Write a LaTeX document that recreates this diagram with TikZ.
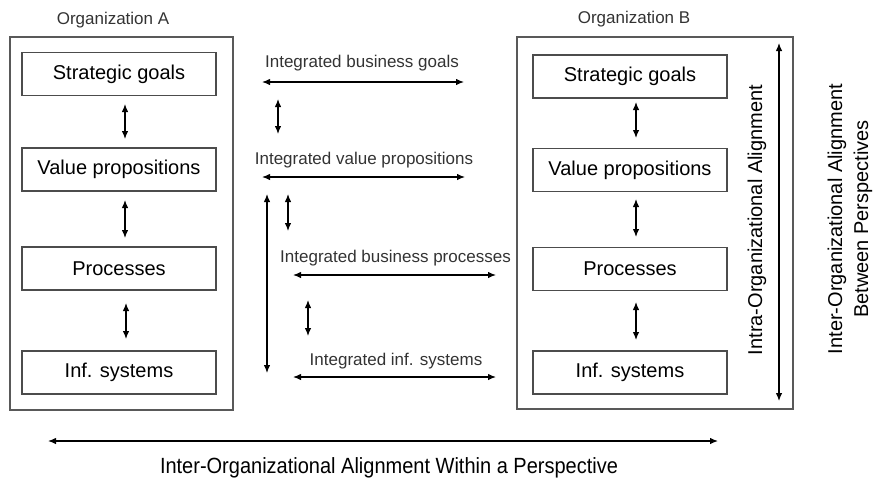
\documentclass[tikz,border=0pt]{standalone}
\usepackage{fontspec}
\setmainfont{Liberation Sans}
\usetikzlibrary{arrows.meta}
\begin{document}
\begin{tikzpicture}[x=1pt,y=-1pt,
 outer/.style={draw=black!65, line width=1.3pt, inner sep=0pt},
 inner/.style={draw=black!70, line width=1.2pt, minimum width=194pt, minimum height=43pt, inner sep=0pt, font=\fontsize{20}{24}\selectfont},
 darr/.style={{Latex[length=8pt,width=6.5pt]}-{Latex[length=8pt,width=6.5pt]}, line width=1.2pt},
 lbl/.style={font=\fontsize{17}{20}\selectfont, text=black!80, inner sep=0pt, anchor=base},
 big/.style={font=\fontsize{20}{26}\selectfont, inner sep=0pt}]
\useasboundingbox (0,0) rectangle (877,477);
% organization boxes
\node[outer, minimum width=223pt, minimum height=373pt] (orgA) at (121.5,223.5) {};
\node[outer, minimum width=276pt, minimum height=372pt] (orgB) at (655,223) {};
\node[lbl] (titA) at (113,24) {Organization A};
\node[lbl] (titB) at (634,23) {Organization B};
% inner boxes A
\node[inner] (sgA) at (119,74) {Strategic goals};
\node[inner] (vpA) at (119,169.5) {Value propositions};
\node[inner] (prA) at (119,268.5) {Processes};
\node[inner] (isA) at (119,372.5) {Inf. systems};
% inner boxes B
\node[inner] (sgB) at (630,76.5) {Strategic goals};
\node[inner] (vpB) at (630,170) {Value propositions};
\node[inner] (prB) at (630,269) {Processes};
\node[inner] (isB) at (630,372.5) {Inf. systems};
% vertical arrows A
\coordinate (a1t) at (125,104); \coordinate (a1b) at (125,139);
\coordinate (a2t) at (125,200); \coordinate (a2b) at (125,238);
\coordinate (a3t) at (126,303); \coordinate (a3b) at (126,339);
\draw[darr] (a1t) -- (a1b);
\draw[darr] (a2t) -- (a2b);
\draw[darr] (a3t) -- (a3b);
% vertical arrows B
\coordinate (b1t) at (636,102); \coordinate (b1b) at (636,138);
\coordinate (b2t) at (636,199); \coordinate (b2b) at (636,237);
\coordinate (b3t) at (636,302); \coordinate (b3b) at (636,340);
\draw[darr] (b1t) -- (b1b);
\draw[darr] (b2t) -- (b2b);
\draw[darr] (b3t) -- (b3b);
% middle labels and arrows
\node[lbl] (ibg) at (362,67) {Integrated business goals};
\node[lbl] (ivp) at (364,164) {Integrated value propositions};
\node[lbl] (ibp) at (395.5,262) {Integrated business processes};
\node[lbl] (iis) at (396,365) {Integrated inf. systems};
\coordinate (h1l) at (262,82); \coordinate (h1r) at (464,82);
\coordinate (h2l) at (262,177); \coordinate (h2r) at (465,177);
\coordinate (h3l) at (293,275); \coordinate (h3r) at (496,275);
\coordinate (h4l) at (293,377); \coordinate (h4r) at (496,377);
\draw[darr] (h1l) -- (h1r);
\draw[darr] (h2l) -- (h2r);
\draw[darr] (h3l) -- (h3r);
\draw[darr] (h4l) -- (h4r);
\coordinate (m1t) at (278,99); \coordinate (m1b) at (278,134);
\coordinate (m2t) at (288,194); \coordinate (m2b) at (288,231);
\coordinate (m3t) at (308,300); \coordinate (m3b) at (308,336);
\coordinate (lt) at (267,194); \coordinate (lb) at (267,373);
\draw[darr] (m1t) -- (m1b);
\draw[darr] (m2t) -- (m2b);
\draw[darr] (m3t) -- (m3b);
\draw[darr] (lt) -- (lb);
% intra-organizational
\coordinate (it) at (779,43); \coordinate (ib) at (779,401);
\draw[darr] (it) -- (ib);
\node[big, rotate=90] (intra) at (757,220) {Intra-Organizational Alignment};
\node[big, rotate=90, align=center] (inter) at (850,219) {Inter-Organizational Alignment\\Between Perspectives};
% bottom
\coordinate (bl) at (48,441); \coordinate (br) at (718,441);
\draw[darr] (bl) -- (br);
\node[big, anchor=base, yscale=1.1] (within) at (389,473) {Inter-Organizational Alignment Within a Perspective};
\end{tikzpicture}
\end{document}
